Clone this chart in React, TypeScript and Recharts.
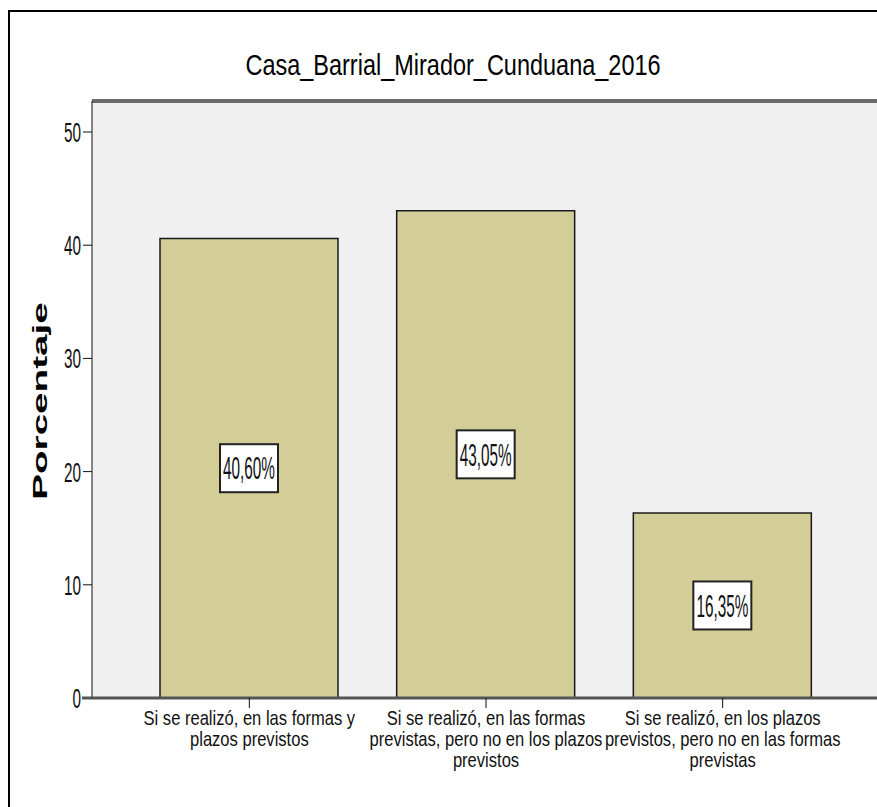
import React from 'react';
import { BarChart, Bar, XAxis, YAxis, CartesianGrid, LabelList, ReferenceLine } from 'recharts';

const categories = [
  'Si se realizó, en las formas y plazos previstos',
  'Si se realizó, en las formas previstas, pero no en los plazos previstos',
  'Si se realizó, en los plazos previstos, pero no en las formas previstas'
];
const categoryLines = [
  ['Si se realizó, en las formas y', 'plazos previstos'],
  ['Si se realizó, en las formas', 'previstas, pero no en los plazos', 'previstos'],
  ['Si se realizó, en los plazos', 'previstos, pero no en las formas', 'previstas']
];
const percentages = [40.6, 43.05, 16.35];
const valueLabels = ['40,60%', '43,05%', '16,35%'];
const yTicks = [0, 10, 20, 30, 40, 50];
const Y_MAX = 52.74;

const data = categories.map((name, i) => ({ name, value: percentages[i], label: valueLabels[i] }));

// no narrow face installed, so plain Liberation Sans squeezed with a transform
const SANS = '"Liberation Sans", Arial, sans-serif';

const YTick = ({ x, y, payload }: any) => {
  const px = Number(x);
  const py = Number(y);
  return (
    <g>
      {payload.value === 0 && <line x1={82} x2={92} y1={py} y2={py} stroke="#555" strokeWidth={3} />}
      <text
        transform={`translate(${px},${py}) scale(0.85,1.55)`}
        x={0}
        y={6.4}
        textAnchor="end"
        fontFamily={SANS}
        fontSize={18}
        fill="#111"
      >
        {payload.value}
      </text>
    </g>
  );
};

const XTick = ({ x, y, payload }: any) => {
  const idx = categories.indexOf(payload.value);
  const lines = categoryLines[idx] || [payload.value];
  const px = Number(x);
  const py = Number(y);
  return (
    <g>
      {lines.map((line, i) => (
        <text
          key={i}
          transform={`translate(${px},${py + 15 + i * 21}) scale(0.92,1.15)`}
          x={0}
          y={0}
          textAnchor="middle"
          fontFamily={SANS}
          fontSize={18}
          fill="#111"
        >
          {line}
        </text>
      ))}
    </g>
  );
};

const ValueLabel = (props: any) => {
  const { x, y, width, height, value } = props;
  const cx = Number(x) + Number(width) / 2;
  const cy = Number(y) + Number(height) / 2;
  return (
    <g>
      <rect x={cx - 29} y={cy - 24} width={58} height={48} fill="#fff" stroke="#222" strokeWidth={2} />
      <text
        transform={`translate(${cx},${cy}) scale(0.85,1.75)`}
        x={0}
        y={6.4}
        textAnchor="middle"
        fontFamily={SANS}
        fontSize={18}
        fill="#111"
      >
        {value}
      </text>
    </g>
  );
};

export default function App() {
  return (
    <div style={{ position: 'fixed', left: 0, top: 0, width: 877, height: 807, overflow: 'hidden', background: '#fff' }}>
      <div
        style={{
          position: 'absolute',
          left: 8,
          top: 10,
          width: 1000,
          height: 1000,
          border: '2px solid #000'
        }}
      />
      <div style={{ position: 'absolute', left: 0, top: 0 }}>
        <BarChart width={900} height={807} data={data} margin={{ top: 101, right: 20, left: 0, bottom: 0 }}>
          <CartesianGrid fill="#f0f0f0" horizontal={false} vertical={false} />
          <XAxis
            dataKey="name"
            height={109}
            padding={{ left: 39, right: 39 }}
            axisLine={{ stroke: '#555', strokeWidth: 3 }}
            tickLine={{ stroke: '#111' }}
            tickSize={10}
            tick={<XTick />}
            interval={0}
          />
          <YAxis
            width={92}
            domain={[0, Y_MAX]}
            ticks={yTicks}
            axisLine={{ stroke: '#111' }}
            tickLine={{ stroke: '#111' }}
            tickSize={9}
            tickMargin={2}
            tick={<YTick />}
            interval={0}
          />
          <Bar dataKey="value" fill="#d3ce98" stroke="#1a1a1a" strokeWidth={1.5} barSize={178} isAnimationActive={false}>
            <LabelList dataKey="label" content={<ValueLabel />} />
          </Bar>
          <ReferenceLine y={Y_MAX} stroke="#6a6a6a" strokeWidth={4} />
        </BarChart>
      </div>
      <svg style={{ position: 'absolute', left: 0, top: 0, pointerEvents: 'none' }} width={877} height={807}>
        <text
          transform="translate(453,75) scale(0.81,1.03)"
          textAnchor="middle"
          fontFamily={SANS}
          fontSize={29}
          fill="#000"
        >
          Casa_Barrial_Mirador_Cunduana_2016
        </text>
        <text
          transform="translate(47,401) rotate(-90) scale(1.84,1)"
          textAnchor="middle"
          fontFamily={SANS}
          fontWeight="bold"
          fontSize={21}
          fill="#000"
        >
          Porcentaje
        </text>
      </svg>
    </div>
  );
}
